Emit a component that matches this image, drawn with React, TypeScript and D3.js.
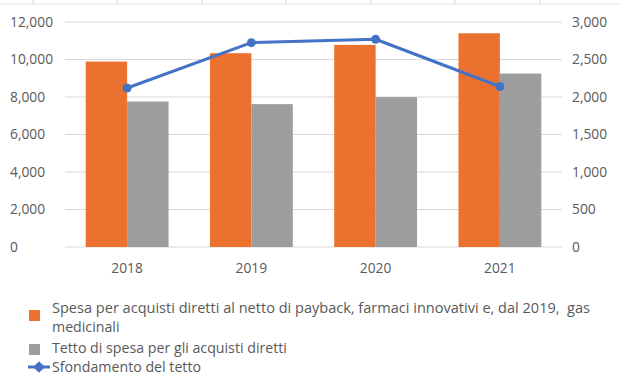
import React from 'react';
import * as d3 from 'd3';

const years = ['2018', '2019', '2020', '2021'];
const spesa = [9890, 10335, 10780, 11400];
const tetto = [7760, 7620, 7995, 9250];
const sfondamento = [2120, 2725, 2770, 2140];
const leftTicks = [0, 2000, 4000, 6000, 8000, 10000, 12000];
const rightTicks = [0, 500, 1000, 1500, 2000, 2500, 3000];
const legendLabels = [
  ['Spesa per acquisti diretti al netto di payback, farmaci innovativi e, dal 2019,  gas', 'medicinali'],
  ['Tetto di spesa per gli acquisti diretti'],
  ['Sfondamento del tetto'],
];
const cellLines = [33, 117, 202, 286, 371, 455, 540];

const width = 621;
const height = 391;
const margin = { top: 22, right: 59, bottom: 144, left: 65 };
const orange = '#EB722E';
const gray = '#9D9D9D';
const blue = '#4472C4';
const textColor = '#595959';
const font = '"Open Sans", sans-serif';
const axisSize = 13.8;
const legendSize = 14.2;

const App = () => {
  // Scales
  const x = d3.scaleBand()
    .domain(years)
    .range([margin.left, width - margin.right]);
  const inner = d3.scaleBand()
    .domain(['spesa', 'tetto'])
    .range([x.bandwidth() / 6, x.bandwidth() * 5 / 6]);
  const yLeft = d3.scaleLinear()
    .domain([0, 12000])
    .range([height - margin.bottom, margin.top]);
  const yRight = d3.scaleLinear()
    .domain([0, 3000])
    .range([height - margin.bottom, margin.top]);

  const fmt = d3.format(',');
  const line = d3.line<number>()
    .x((_, i) => x(years[i])! + x.bandwidth() / 2)
    .y(d => yRight(d));

  return (
    <svg width={width} height={height} style={{ position: 'absolute', left: 0, top: 0, background: '#fff' }}>
      {/* spreadsheet cell borders behind the chart */}
      <line x1={0} x2={width} y1={4} y2={4} stroke="#E3E3E3" />
      {cellLines.map(cx => (
        <line key={cx} x1={cx} x2={cx} y1={0} y2={4} stroke="#D6D6D6" />
      ))}

      {/* gridlines */}
      {leftTicks.map(t => (
        <line key={t} x1={margin.left} x2={width - margin.right} y1={yLeft(t)} y2={yLeft(t)} stroke="#D9D9D9" strokeWidth={1} />
      ))}

      {/* left axis labels */}
      {leftTicks.map(t => (
        <text key={t} x={10} y={yLeft(t)} dy="0.35em" fontSize={axisSize} fill={textColor} fontFamily={font}>{fmt(t)}</text>
      ))}
      {/* right axis labels */}
      {rightTicks.map(t => (
        <text key={t} x={572} y={yRight(t)} dy="0.35em" fontSize={axisSize} fill={textColor} fontFamily={font}>{fmt(t)}</text>
      ))}

      {/* bars */}
      {years.map((yr, i) => (
        <g key={yr} transform={`translate(${x(yr)},0)`}>
          <rect x={inner('spesa')} y={yLeft(spesa[i])} width={inner.bandwidth()} height={yLeft(0) - yLeft(spesa[i])} fill={orange} />
          <rect x={inner('tetto')} y={yLeft(tetto[i])} width={inner.bandwidth()} height={yLeft(0) - yLeft(tetto[i])} fill={gray} />
        </g>
      ))}

      {/* line */}
      <path d={line(sfondamento)!} fill="none" stroke={blue} strokeWidth={3} strokeLinejoin="round" />
      {sfondamento.map((v, i) => (
        <circle key={i} cx={x(years[i])! + x.bandwidth() / 2} cy={yRight(v)} r={4.5} fill={blue} />
      ))}

      {/* x labels */}
      {years.map(yr => (
        <text key={yr} x={x(yr)! + x.bandwidth() / 2} y={268} dy="0.35em" textAnchor="middle" fontSize={axisSize} fill={textColor} fontFamily={font}>{yr}</text>
      ))}

      {/* legend */}
      <g fontSize={legendSize} fill={textColor} fontFamily={font}>
        <rect x={29} y={310} width={11} height={11} fill={orange} />
        <text x={52} y={308} dy="0.35em" xmlSpace="preserve" textLength={538} lengthAdjust="spacingAndGlyphs">{legendLabels[0][0]}</text>
        <text x={52} y={327} dy="0.35em">{legendLabels[0][1]}</text>
        <rect x={29} y={344} width={11} height={11} fill={gray} />
        <text x={52} y={348} dy="0.35em">{legendLabels[1][0]}</text>
        <line x1={28} x2={50} y1={367} y2={367} stroke={blue} strokeWidth={3} />
        <path d={d3.symbol(d3.symbolDiamond, 60)()!} transform="translate(39,367) scale(1.4,0.8)" fill={blue} />
        <text x={52} y={367} dy="0.35em">{legendLabels[2][0]}</text>
      </g>
    </svg>
  );
};

export default App;
